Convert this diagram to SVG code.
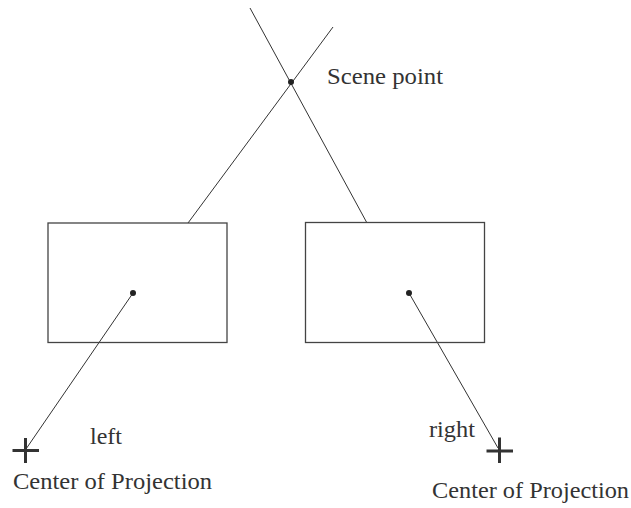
<svg xmlns="http://www.w3.org/2000/svg" width="631" height="508" viewBox="0 0 631 508">
<style>
.ln{stroke:#333;stroke-width:1;fill:none}
.rc{stroke:#444;stroke-width:1.3;fill:none}
.cr{stroke:#333;stroke-width:3;fill:none}
.dot{fill:#222}
.t{font-family:'Liberation Serif','Times New Roman',serif;font-size:23px;fill:#333}
</style>
<rect width="631" height="508" fill="#fff"/>
<g id="connectors">
<line class="ln" x1="250" y1="8" x2="367" y2="223"/>
<line class="ln" x1="333" y1="27" x2="188" y2="223"/>
<line class="ln" x1="133" y1="293" x2="26" y2="449"/>
<line class="ln" x1="409" y1="293" x2="498" y2="448"/>
</g>
<g id="scene">
<circle class="dot" cx="291" cy="82" r="3"/>
<text class="t" x="327" y="84" textLength="116" lengthAdjust="spacingAndGlyphs">Scene point</text>
</g>
<g id="leftImage">
<rect class="rc" x="48" y="223" width="179" height="119.5"/>
<circle class="dot" cx="133" cy="293" r="3"/>
</g>
<g id="rightImage">
<rect class="rc" x="305.5" y="222.5" width="179" height="120"/>
<circle class="dot" cx="409" cy="293" r="3"/>
</g>
<g id="leftCOP">
<path class="cr" d="M12.5 450.5H39M25.5 438V463"/>
<text class="t" x="90" y="444" textLength="32" lengthAdjust="spacingAndGlyphs">left</text>
<text class="t" x="13" y="489" textLength="199" lengthAdjust="spacingAndGlyphs">Center of Projection</text>
</g>
<g id="rightCOP">
<path class="cr" d="M486.5 451H513M499.5 437.5V463"/>
<text class="t" x="429" y="437" textLength="46" lengthAdjust="spacingAndGlyphs">right</text>
<text class="t" x="432" y="498" textLength="197" lengthAdjust="spacingAndGlyphs">Center of Projection</text>
</g>
</svg>
